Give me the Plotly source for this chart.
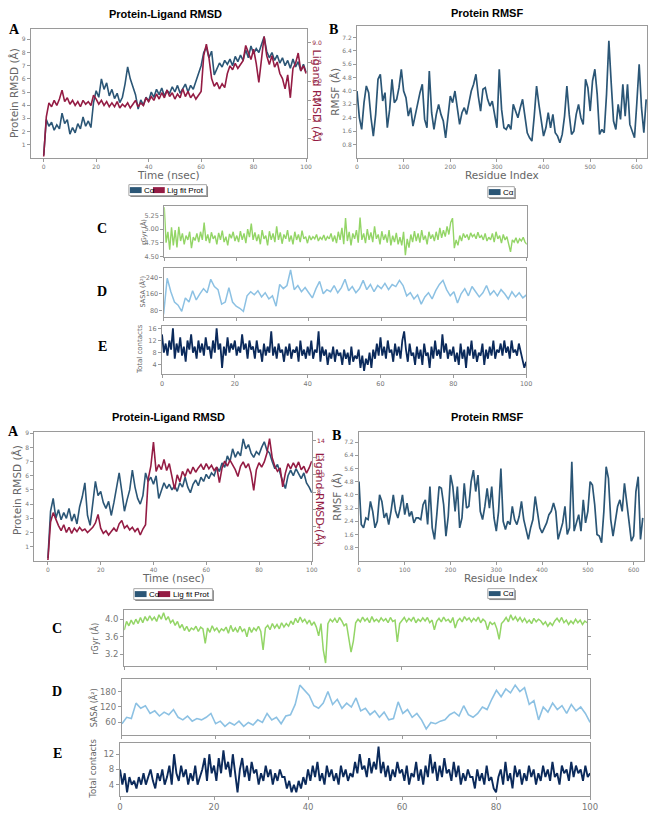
import plotly.graph_objects as go

W, H = 661, 813
def px(x): return x / W
def py(y): return 1 - y / H

# ---------------- DATA ----------------
# Top complex: Protein-Ligand RMSD (time step 1 ns)
top_ca_rmsd = [0.2, 2.9, 2.4, 2.7, 2.1, 2.5, 2.2, 3.4, 2.6, 2.9, 1.8, 2.3, 1.9, 2.6, 2.2, 3.1, 2.4, 2.8, 2.3, 4.2,
               5.1, 4.6, 6.0, 5.2, 5.7, 4.7, 5.2, 4.5, 4.9, 4.2, 4.6, 5.6, 6.9, 6.0, 5.4, 4.8, 3.7, 4.4, 4.0, 4.6,
               4.3, 5.0, 4.6, 5.2, 4.8, 5.3, 4.7, 5.1, 4.9, 5.4, 5.0, 5.5, 4.9, 5.3, 5.6, 5.0, 5.5, 5.2, 5.8, 6.3,
               7.0, 8.0, 8.4, 7.6, 8.1, 6.3, 6.8, 7.2, 6.9, 7.4, 7.1, 7.5, 7.0, 7.7, 7.3, 7.8, 7.4, 8.2, 7.6, 8.5,
               7.9, 8.3, 8.0, 8.6, 9.2, 8.1, 7.6, 8.0, 7.4, 7.8, 7.2, 7.6, 7.0, 7.4, 6.8, 7.5, 6.9, 7.3, 6.6, 7.1, 6.5]
top_lig_rmsd = [0.1, 3.2, 4.3, 4.0, 4.5, 4.1, 4.6, 5.3, 4.4, 4.7, 4.2, 4.5, 4.1, 4.4, 4.0, 4.5, 4.2, 4.4, 4.1, 4.9,
                4.6, 4.2, 4.5, 4.1, 4.4, 4.0, 4.3, 4.0, 4.4, 3.9, 4.2, 4.0, 4.3, 3.9, 4.2, 4.5, 4.0, 4.3, 4.1, 4.7,
                4.4, 4.8, 4.5, 5.0, 4.6, 5.1, 4.7, 5.3, 4.8, 5.1, 4.6, 5.0, 4.7, 5.4, 4.8, 5.2, 4.7, 5.0, 4.6, 4.9,
                5.2, 8.0, 8.9, 7.8, 6.2, 5.6, 5.9, 5.4, 5.8, 5.5, 6.6, 7.2, 6.9, 7.4, 7.0, 7.3, 7.6, 8.8, 8.2, 7.7,
                8.5, 7.4, 5.9, 7.8, 9.5, 8.0, 7.3, 8.0, 7.1, 7.5, 6.6, 6.2, 5.4, 6.5, 4.7, 7.0, 7.4, 8.2, 6.8, 7.2, 6.6]
# Top complex: Protein RMSF (every 5 residues)
top_rmsf = [4.0, 2.4, 1.7, 3.3, 4.3, 3.9, 2.4, 1.3, 2.6, 4.7, 5.0, 3.4, 3.9, 1.8, 2.9, 4.7, 3.3, 3.5, 4.2, 5.3,
            4.0, 3.6, 2.5, 3.0, 1.9, 2.6, 3.2, 3.9, 4.4, 2.3, 1.8, 5.2, 2.7, 1.7, 2.6, 3.2, 2.6, 2.2, 1.2, 2.5,
            3.7, 3.3, 4.0, 3.0, 2.0, 2.7, 3.0, 2.6, 3.3, 4.0, 4.4, 5.0, 3.7, 2.8, 4.1, 4.2, 3.5, 3.1, 3.4, 2.5,
            1.8, 5.3, 2.9, 1.8, 1.7, 2.0, 1.7, 3.2, 2.8, 2.4, 3.0, 3.5, 2.5, 1.5, 1.2, 1.0, 2.5, 4.3, 3.2, 2.1,
            1.3, 1.8, 2.7, 1.8, 2.6, 1.5, 1.3, 0.9, 1.4, 2.5, 4.3, 2.6, 1.4, 1.6, 2.6, 3.2, 2.4, 2.0, 4.7, 4.2,
            2.8, 4.6, 5.3, 3.8, 1.4, 1.7, 1.5, 3.8, 7.0, 4.5, 2.2, 1.7, 3.2, 2.3, 4.4, 2.5, 4.4, 2.0, 1.6, 1.2,
            3.3, 5.6, 3.0, 1.5, 3.5]
# Top complex: rGyr (step 0.5 ns)
top_rgyr = [5.40, 4.75, 4.95, 4.62, 5.03, 4.70, 4.98, 4.66, 5.04, 4.78,
            4.92, 4.72, 4.88, 4.80, 4.95, 4.65, 4.85, 4.79, 4.92, 4.76,
            4.95, 4.80, 5.12, 4.78, 4.90, 4.74, 4.94, 4.82, 4.88, 4.72,
            4.93, 4.80, 4.97, 4.76, 4.86, 4.70, 4.91, 4.83, 4.95, 4.78,
            4.88, 4.76, 4.96, 4.80, 4.92, 4.74, 5.00, 4.85, 5.10, 4.80,
            4.94, 4.78, 4.90, 4.72, 4.98, 4.82, 4.88, 4.70, 4.96, 4.80,
            4.92, 4.76, 5.05, 4.80, 4.94, 4.73, 4.90, 4.82, 4.98, 4.77,
            4.88, 4.72, 4.95, 4.80, 4.90, 4.76, 4.97, 4.82, 4.86, 4.74,
            4.88, 4.80, 4.86, 4.82, 4.90, 4.78, 4.85, 4.81, 4.89, 4.79,
            4.86, 4.82, 4.92, 4.77, 4.88, 4.74, 4.95, 4.80, 5.02, 4.72,
            5.20, 4.78, 4.95, 4.70, 4.92, 4.82, 4.98, 4.75, 5.21, 4.80,
            4.92, 4.74, 5.00, 4.80, 4.94, 4.76, 5.05, 4.82, 4.90, 4.72,
            4.96, 4.80, 4.90, 4.75, 4.98, 4.70, 4.88, 4.76, 4.93, 4.72,
            4.85, 4.70, 4.95, 4.52, 4.82, 4.66, 4.90, 4.76, 4.96, 4.78,
            4.92, 4.75, 4.98, 4.80, 4.88, 4.72, 4.95, 4.82, 4.90, 4.78,
            4.95, 4.80, 5.02, 4.84, 4.98, 4.86, 5.05, 4.90, 5.12, 5.20,
            4.65, 4.80, 4.70, 4.88, 4.78, 4.92, 4.84, 4.90, 4.80, 4.93,
            4.86, 4.90, 4.82, 4.94, 4.84, 4.88, 4.80, 4.92, 4.78, 4.85,
            4.80, 4.92, 4.76, 4.95, 4.82, 4.88, 4.74, 4.90, 4.80, 4.86,
            4.72, 4.58, 4.80, 4.76, 4.84, 4.74, 4.82, 4.78, 4.85, 4.76, 4.72]
# Top complex: SASA (step 1 ns)
top_sasa = [60, 235, 170, 120, 105, 75, 140, 120, 175, 130, 160, 185, 165, 230, 195, 180, 110, 120, 190, 120,
            100, 90, 75, 150, 170, 155, 175, 145, 165, 135, 150, 100, 205, 185, 200, 275, 180, 200, 170, 190,
            165, 140, 185, 220, 160, 180, 170, 200, 165, 190, 230, 175, 195, 165, 185, 225, 180, 205, 170, 200,
            185, 210, 180, 205, 195, 225, 200, 150, 165, 135, 155, 110, 145, 165, 135, 175, 205, 225, 180, 150,
            170, 115, 160, 185, 150, 195, 170, 145, 165, 200, 155, 175, 150, 180, 160, 135, 170, 145, 165, 140, 155]
# Top complex: Total contacts (step 0.5 ns)
top_contacts = [14, 8, 11, 7, 12, 9, 16, 6, 11, 8, 13, 7, 10, 5, 12, 9, 14, 8, 10, 6,
                12, 8, 11, 7, 13, 9, 10, 6, 12, 8, 16, 9, 11, 3, 10, 7, 13, 8, 11, 9,
                12, 7, 10, 8, 14, 9, 11, 6, 12, 9, 10, 6, 12, 8, 9, 5, 11, 7, 10, 8,
                15, 7, 10, 6, 11, 8, 9, 5, 10, 7, 11, 6, 9, 8, 10, 5, 12, 7, 9, 6,
                10, 7, 12, 6, 9, 8, 15, 5, 10, 7, 9, 4, 8, 6, 10, 5, 9, 7, 8, 4,
                9, 6, 8, 4, 10, 5, 7, 6, 9, 3, 7, 2, 6, 4, 8, 3, 9, 6, 11, 7,
                13, 7, 10, 6, 12, 8, 9, 5, 11, 7, 10, 6, 12, 15, 9, 5, 11, 7, 8, 4,
                10, 6, 9, 4, 11, 7, 8, 3, 10, 6, 12, 7, 9, 6, 14, 8, 11, 6, 9, 7,
                10, 5, 8, 4, 11, 6, 9, 3, 10, 7, 12, 6, 9, 5, 8, 7, 11, 4, 9, 6,
                10, 7, 12, 6, 9, 8, 11, 7, 12, 8, 10, 6, 12, 8, 9, 7, 11, 8, 6, 3, 5]

# Bottom complex
bot_ca_rmsd = [0.2, 3.5, 4.4, 3.0, 3.6, 2.9, 3.4, 3.0, 3.7, 2.8, 3.3, 2.6, 3.8, 4.5, 5.5, 3.2, 2.5, 4.3, 5.6, 4.6,
               4.9, 4.1, 3.7, 4.2, 3.2, 4.1, 5.3, 6.2, 4.9, 3.5, 4.3, 5.0, 6.4, 5.2, 4.4, 4.0, 4.6, 6.2, 5.6, 5.9,
               5.4, 6.0, 4.4, 5.0, 5.5, 5.1, 5.4, 5.0, 5.3, 4.9, 5.5, 5.2, 5.9, 5.2, 4.8, 5.4, 5.7, 5.3, 5.9, 5.6,
               6.1, 5.8, 6.2, 6.0, 6.6, 6.3, 6.9, 6.6, 7.4, 7.0, 7.9, 7.3, 7.7, 7.4, 8.6, 7.9, 8.2, 7.6, 7.3, 7.7,
               7.5, 8.0, 8.4, 7.8, 7.6, 7.0, 6.5, 6.8, 6.1, 5.6, 5.1, 6.0, 6.4, 6.0, 6.5, 6.1, 5.8, 6.2, 5.5, 5.2, 4.8]
bot_lig_rmsd = [0.1, 4.5, 5.6, 4.8, 4.1, 3.5, 4.2, 3.3, 3.9, 3.2, 3.8, 3.4, 3.9, 3.5, 3.7, 3.3, 3.6, 3.9, 4.4, 5.4,
                3.8, 3.2, 3.5, 3.0, 3.4, 3.8, 3.4, 4.3, 4.7, 3.8, 4.1, 3.6, 3.9, 3.4, 3.8, 3.0, 3.7, 4.2, 9.5, 11.0,
                13.8, 10.4, 11.2, 10.6, 11.8, 10.5, 11.3, 9.8, 8.3, 10.0, 9.2, 10.4, 9.8, 10.7, 10.1, 10.9, 10.3, 10.8, 11.2, 10.6,
                11.3, 10.7, 11.1, 10.5, 10.9, 9.1, 10.8, 11.6, 11.0, 11.7, 11.2, 10.6, 9.8, 11.0, 11.5, 10.8, 11.3, 10.2, 8.2, 10.6,
                11.4, 10.9, 11.5, 12.5, 14.2, 12.0, 11.0, 10.4, 10.8, 8.6, 10.2, 11.3, 10.7, 11.4, 10.8, 11.5, 10.6, 11.0, 10.2, 10.8, 11.6]
bot_rmsf = [4.8, 2.2, 2.0, 2.6, 2.5, 3.6, 3.0, 2.0, 2.4, 4.0, 3.6, 2.6, 2.9, 2.2, 3.0, 4.0, 3.0, 2.6, 3.2, 4.0,
            2.8, 3.5, 2.7, 3.0, 2.3, 2.6, 2.6, 2.5, 3.4, 3.7, 2.2, 4.5, 2.0, 1.3, 2.8, 4.5, 4.4, 3.4, 1.5, 2.7,
            5.2, 4.5, 3.0, 4.5, 2.0, 2.6, 4.7, 3.2, 3.3, 4.8, 5.5, 4.2, 5.2, 3.0, 2.5, 3.3, 4.4, 3.2, 4.5, 2.6,
            1.8, 3.0, 5.6, 2.4, 1.9, 2.4, 2.2, 3.3, 2.5, 2.2, 2.7, 3.6, 2.5, 1.8, 1.3, 2.0, 2.5, 3.9, 2.8, 2.0,
            1.7, 2.0, 2.3, 2.8, 3.0, 3.5, 3.0, 1.3, 1.8, 2.3, 3.3, 1.6, 2.0, 6.0, 1.8, 2.3, 2.8, 1.8, 3.7, 2.3,
            3.0, 4.8, 4.6, 3.4, 1.6, 1.5, 1.1, 3.0, 5.7, 5.0, 2.5, 1.5, 2.5, 3.3, 3.7, 3.0, 4.7, 3.5, 2.2, 1.2,
            1.5, 4.2, 5.1, 1.3, 2.6]
bot_rgyr = [3.75, 3.95, 3.85, 3.98, 3.88, 4.00, 3.90, 4.04, 3.92, 4.06,
            3.96, 4.08, 3.98, 4.05, 3.95, 4.10, 4.00, 4.15, 3.98, 4.06,
            3.92, 3.98, 3.86, 3.95, 3.80, 3.88, 3.74, 3.84, 3.72, 3.80,
            3.76, 3.84, 3.72, 3.82, 3.78, 3.45, 3.80, 3.70, 3.85, 3.74,
            3.80, 3.70, 3.78, 3.74, 3.82, 3.68, 3.86, 3.72, 3.80, 3.70,
            3.84, 3.72, 3.78, 3.60, 3.82, 3.70, 3.80, 3.74, 3.84, 3.72,
            3.30, 3.80, 3.86, 3.76, 3.90, 3.80, 3.88, 3.78, 3.92, 3.82,
            3.90, 3.84, 3.96, 3.88, 4.02, 3.92, 4.05, 3.94, 4.00, 3.90,
            3.98, 3.86, 3.94, 3.82, 3.62, 3.90, 3.30, 3.00, 3.90, 4.00,
            3.94, 4.02, 3.92, 4.04, 3.96, 3.85, 3.90, 3.60, 3.25, 3.50,
            3.92, 4.00, 3.94, 4.05, 3.96, 4.02, 3.92, 4.06, 3.95, 4.00,
            3.94, 4.03, 3.96, 4.01, 3.92, 4.04, 3.95, 3.98, 3.48, 3.90,
            3.98, 4.04, 3.94, 4.02, 3.96, 4.05, 3.92, 4.00, 3.95, 4.03,
            3.96, 4.04, 3.92, 3.98, 3.76, 3.95, 4.02, 3.94, 4.05, 3.96,
            4.00, 3.92, 4.04, 3.80, 3.96, 4.02, 3.94, 4.06, 3.98, 4.03,
            3.94, 4.02, 3.96, 4.05, 3.92, 4.00, 3.95, 3.76, 3.94, 3.88,
            3.92, 3.78, 3.54, 3.90, 3.96, 4.04, 3.94, 4.10, 3.98, 4.06,
            3.96, 4.04, 3.94, 4.02, 3.92, 3.98, 3.90, 4.02, 3.94, 4.00,
            3.96, 3.88, 3.94, 3.84, 3.92, 3.86, 3.96, 4.02, 3.94, 4.04,
            3.92, 3.98, 3.88, 3.96, 3.90, 4.00, 3.92, 3.98, 3.88, 3.96, 3.92]
bot_sasa = [55, 80, 75, 135, 115, 125, 95, 105, 85, 100, 90, 110, 80, 70, 85, 65, 75, 70, 80, 95,
            55, 65, 45, 60, 50, 65, 45, 60, 50, 70, 60, 95, 70, 80, 55, 85, 90, 130, 205, 185,
            165, 125, 115, 135, 180, 130, 150, 115, 135, 120, 155, 105, 115, 90, 105, 80, 100, 70, 75, 140,
            95, 110, 80, 95, 70, 35, 60, 55, 65, 70, 90, 100, 85, 125, 90, 80, 95, 120, 110, 150,
            185, 160, 190, 175, 205, 180, 195, 130, 145, 70, 120, 100, 135, 110, 125, 95, 130, 105, 120, 95, 60]
bot_contacts = [8, 4, 7, 2, 6, 4, 5, 3, 6, 4, 7, 4, 6, 8, 5, 3, 7, 5, 8, 4,
                6, 9, 4, 12, 7, 5, 9, 6, 8, 4, 7, 5, 9, 4, 6, 8, 11, 5, 12, 7,
                9, 5, 11, 7, 13, 8, 10, 6, 12, 7, 2, 8, 11, 6, 9, 5, 10, 7, 8, 4,
                7, 5, 9, 6, 8, 4, 7, 5, 8, 6, 6, 3, 5, 2, 4, 2, 5, 3, 6, 4,
                8, 5, 9, 6, 10, 5, 7, 4, 9, 6, 8, 5, 7, 4, 9, 6, 8, 5, 7, 6,
                10, 7, 12, 8, 9, 6, 11, 7, 10, 8, 14, 7, 10, 6, 9, 5, 8, 6, 10, 7,
                8, 5, 9, 4, 7, 6, 10, 5, 8, 4, 9, 6, 12, 7, 10, 5, 9, 6, 11, 7,
                8, 5, 10, 6, 9, 4, 7, 5, 8, 6, 6, 3, 8, 5, 7, 4, 9, 5, 6, 3,
                2, 6, 8, 4, 10, 5, 7, 3, 9, 6, 8, 4, 7, 5, 9, 6, 8, 4, 7, 5,
                9, 6, 8, 5, 10, 6, 7, 4, 9, 7, 8, 5, 10, 6, 9, 7, 8, 5, 9, 6, 7]

def grid(vals, step):
    return [i * step for i in range(len(vals))]

# ---------------- STYLE ----------------
CA = '#2b5676'
LIG = '#941c44'
GREEN = '#93d566'
LBLUE = '#8cc1e3'
NAVY = '#0b2a5b'
SPINE = '#9a9a9a'
TICKC = '#777777'
TITC = '#666666'
FONT = 'DejaVu Sans'

fig = go.Figure()
def line(x, y, xa, ya, color, width):
    fig.add_trace(go.Scatter(x=x, y=y, xaxis=xa, yaxis=ya, mode='lines',
                             line=dict(color=color, width=width), showlegend=False, hoverinfo='skip'))

line(grid(top_ca_rmsd, 1), top_ca_rmsd, 'x', 'y', CA, 1.6)
line(grid(top_lig_rmsd, 1), top_lig_rmsd, 'x', 'y2', LIG, 1.6)
line(grid(top_rmsf, 5), top_rmsf, 'x2', 'y3', CA, 1.7)
line(grid(top_rgyr, 0.5), top_rgyr, 'x3', 'y4', GREEN, 1.4)
line(grid(top_sasa, 1), top_sasa, 'x4', 'y5', LBLUE, 1.5)
line(grid(top_contacts, 0.5), top_contacts, 'x5', 'y6', NAVY, 1.8)

line(grid(bot_ca_rmsd, 1), bot_ca_rmsd, 'x6', 'y7', CA, 1.6)
line(grid(bot_lig_rmsd, 1), bot_lig_rmsd, 'x6', 'y8', LIG, 1.6)
line(grid(bot_rmsf, 5), bot_rmsf, 'x7', 'y9', CA, 1.7)
line(grid(bot_rgyr, 0.5), bot_rgyr, 'x8', 'y10', GREEN, 1.5)
line(grid(bot_sasa, 1), bot_sasa, 'x9', 'y11', LBLUE, 1.6)
line(grid(bot_contacts, 0.5), bot_contacts, 'x10', 'y12', NAVY, 1.9)

def ax(dom, rng, tickvals, size, anchor, showlabels=True, ticktext=None, mirror=True, color=TICKC):
    d = dict(domain=dom, range=rng, tickvals=tickvals, anchor=anchor,
             showline=True, linecolor=SPINE, linewidth=1.2, mirror=mirror,
             ticks='outside', ticklen=3, tickwidth=1, tickcolor=SPINE,
             showticklabels=showlabels, tickfont=dict(size=size, color=color, family=FONT),
             showgrid=False, zeroline=False, fixedrange=True)
    if ticktext is not None:
        d['ticktext'] = ticktext
    return d

def xd(x0, x1): return [px(x0), px(x1)]
def yd(y0, y1): return [py(y1), py(y0)]

lay = dict(width=W, height=H, margin=dict(l=0, r=0, t=0, b=0),
           paper_bgcolor='white', plot_bgcolor='white', showlegend=False)

tv = [0, 20, 40, 60, 80, 100]
rmsf_ticks = [0.8, 1.6, 2.4, 3.2, 4.0, 4.8, 5.6, 6.4, 7.2]
rmsf_text = ['0.8', '1.6', '2.4', '3.2', '4.0', '4.8', '5.6', '6.4', '7.2']
# Top A
lay['xaxis'] = ax(xd(28.3, 309), [-4.9, 100.3], tv, 6, 'y')
lay['yaxis'] = ax(yd(27, 157), [0, 9.8], list(range(1, 10)), 6, 'x', mirror=False)
lay['yaxis2'] = ax(yd(27, 157), [0, 10.1], [1.5, 3.0, 4.5, 6.0, 7.5, 9.0], 6, 'x', mirror=False,
                   ticktext=['1.5', '3.0', '4.5', '6.0', '7.5', '9.0'], color=LIG)
lay['yaxis2'].update(overlaying='y', side='right')
# Top B
lay['xaxis2'] = ax(xd(360, 655), [0, 622], [0, 100, 200, 300, 400, 500, 600], 6, 'y3')
lay['yaxis3'] = ax(yd(24, 157), [0, 7.9], rmsf_ticks, 6, 'x2', ticktext=rmsf_text)
# Top C, D, E
lay['xaxis3'] = ax(xd(164, 532.7), [0, 100], tv, 6.5, 'y4', showlabels=False)
lay['yaxis4'] = ax(yd(205.7, 256.7), [4.49, 5.42], [4.5, 4.75, 5.0, 5.25], 6.5, 'x3',
                   ticktext=['4.50', '4.75', '5.00', '5.25'])
lay['xaxis4'] = ax(xd(163.3, 532.3), [0, 100], tv, 6.5, 'y5', showlabels=False)
lay['yaxis5'] = ax(yd(267.7, 317.7), [46, 286], [80, 160, 240], 6.5, 'x4')
lay['xaxis5'] = ax(xd(161.7, 532), [0, 100], tv, 6.5, 'y6')
lay['yaxis6'] = ax(yd(326, 375), [0.9, 16.9], [4, 8, 12, 16], 6.5, 'x5')
# Bottom A
lay['xaxis6'] = ax(xd(32, 314), [-5.1, 100], tv, 6, 'y7')
lay['yaxis7'] = ax(yd(433, 563), [0, 9.1], list(range(1, 10)), 6, 'x6', mirror=False)
lay['yaxis8'] = ax(yd(433, 563), [0, 15], [2, 4, 6, 8, 10, 12, 14], 6, 'x6', mirror=False, color=LIG)
lay['yaxis8'].update(overlaying='y7', side='right')
# Bottom B
lay['xaxis7'] = ax(xd(362, 652), [0, 623], [0, 100, 200, 300, 400, 500, 600], 6, 'y9')
lay['yaxis9'] = ax(yd(433, 563), [0, 7.82], rmsf_ticks, 6, 'x7', ticktext=rmsf_text)
# Bottom C, D, E
lay['xaxis8'] = ax(xd(123.3, 594), [0, 100], tv, 8.5, 'y10', showlabels=False)
lay['yaxis10'] = ax(yd(613, 669), [2.93, 4.2], [3.2, 3.6, 4.0], 8.5, 'x8', ticktext=['3.2', '3.6', '4.0'])
lay['yaxis10']['mirror'] = 'ticks'
lay['xaxis9'] = ax(xd(121, 597), [0, 100], tv, 8.5, 'y11', showlabels=False)
lay['yaxis11'] = ax(yd(681.7, 738), [13, 230], [60, 120, 180], 8.5, 'x9')
lay['xaxis10'] = ax(xd(119, 597), [0, 100], tv, 8.5, 'y12')
lay['yaxis12'] = ax(yd(746.7, 800), [1, 14.9], [4, 8, 12], 8.5, 'x10')

ann = []
shapes = []
def text(x, y, s, size, color='black', family=FONT, angle=0, xanchor='center', yanchor='middle'):
    ann.append(dict(x=px(x), y=py(y), xref='paper', yref='paper', text=s, showarrow=False,
                    font=dict(size=size, color=color, family=family), textangle=angle,
                    xanchor=xanchor, yanchor=yanchor))

# Titles
text(165, 12, '<b>Protein-Ligand RMSD</b>', 11, family='Liberation Sans')
text(492, 11, '<b>Protein RMSF</b>', 11, family='Liberation Sans')
text(168, 418, '<b>Protein-Ligand RMSD</b>', 11, family='Liberation Sans')
text(492, 418, '<b>Protein RMSF</b>', 11, family='Liberation Sans')
# Panel letters
SERIF = 'Liberation Serif'
for (x, y, s) in [(12, 28, 'A'), (336, 28, 'B'), (101, 228, 'C'), (101, 292, 'D'), (101, 347, 'E'),
                  (11, 433, 'A'), (339, 437, 'B'), (55, 631, 'C'), (55, 695, 'D'), (55, 757, 'E')]:
    text(x, y, '<b>%s</b>' % s, 14, family=SERIF)
# Axis titles top
text(12, 92, 'Protein RMSD (Å)', 10.5, TITC, angle=-90)
text(168, 174, 'Time (nsec)', 10.5, TITC)
text(319, 95, 'Ligand RMSD (Å)', 11, LIG, angle=90)
text(338, 90, 'RMSF (Å)', 10.5, TITC, angle=-90)
text(507, 174, 'Residue Index', 10.5, TITC)
text(143, 232, 'rGyr (Å)', 6.5, TITC, angle=-90)
text(142, 292, 'SASA (Å²)', 6.5, TITC, angle=-90)
text(140, 350, 'Total contacts', 7, TITC, angle=-90)
# Axis titles bottom
text(15, 492, 'Protein RMSD (Å)', 10.5, TITC, angle=-90)
text(173, 580, 'Time (nsec)', 10.5, TITC)
text(322, 501, 'Ligand RMSD (Å)', 11, LIG, angle=90)
text(340, 498, 'RMSF (Å)', 10.5, TITC, angle=-90)
text(506, 580, 'Residue Index', 10.5, TITC)
text(93, 641, 'rGyr (Å)', 8, TITC, angle=-90)
text(92, 711, 'SASA (Å²)', 8, TITC, angle=-90)
text(92, 772, 'Total contacts', 8.5, TITC, angle=-90)

# Legends (drawn boxes)
def rect(x0, y0, x1, y1, fill, linec=None, lw=0):
    shapes.append(dict(type='rect', xref='paper', yref='paper', x0=px(x0), x1=px(x1), y0=py(y1), y1=py(y0),
                       fillcolor=fill, line=dict(color=linec or fill, width=lw), layer='above'))

def legend(x0, y0, x1, y1, items):
    rect(x0 + 1.5, y0 + 1.5, x1 + 1.5, y1 + 1.5, '#8a8a8a')
    rect(x0, y0, x1, y1, 'white', '#a8a8a8', 1)
    for (rx0, rx1, col, label) in items:
        rect(rx0, y0 + 2.5, rx1, y1 - 2.5, col)
        text(rx1 + 0.5, (y0 + y1) / 2, label, 8, 'black', family='Liberation Sans', xanchor='left')

legend(128, 184, 207, 195, [(129, 141, CA, 'Cα'), (152.5, 164.5, LIG, 'Lig fit Prot')])
legend(493, 186, 520, 197, [(494, 506, CA, 'Cα')])
legend(133, 591, 213, 602, [(134, 146, CA, 'Cα'), (157.5, 170, LIG, 'Lig fit Prot')])
legend(493, 591, 520, 601, [(494, 506, CA, 'Cα')])

lay['annotations'] = ann
lay['shapes'] = shapes
fig.update_layout(**lay)
fig.write_html('out.html')
